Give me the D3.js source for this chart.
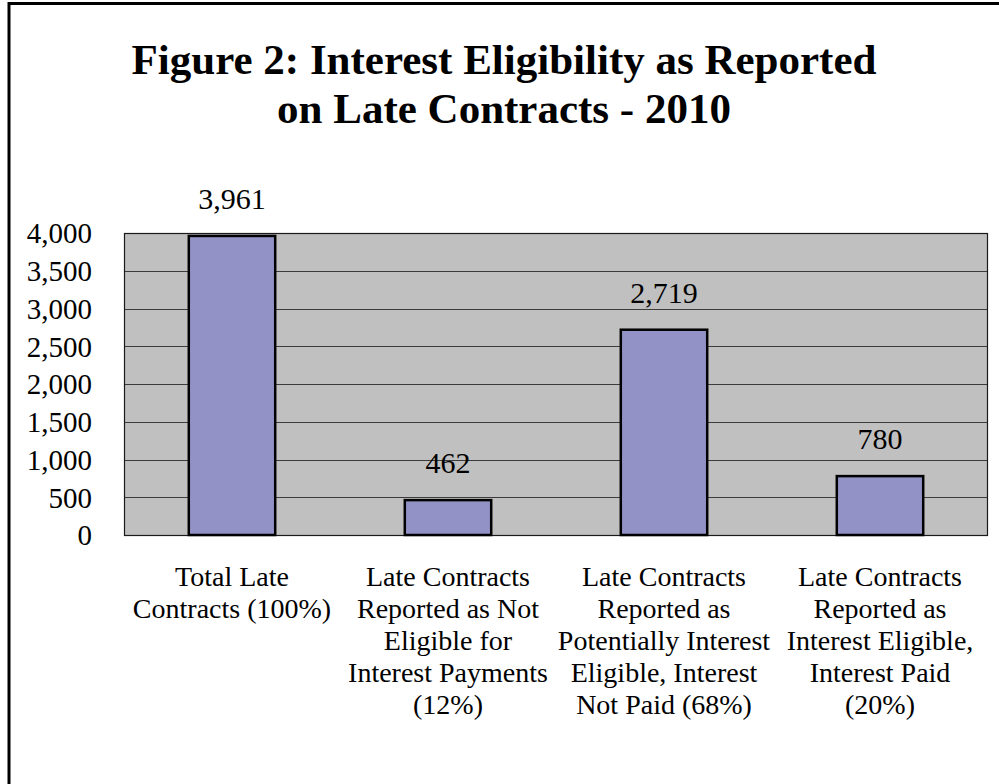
<!DOCTYPE html>
<html lang="en">
<head>
<meta charset="utf-8">
<title>Figure 2: Interest Eligibility as Reported on Late Contracts - 2010</title>
<script src="https://cdn.jsdelivr.net/npm/d3@7"></script>
<style>
  html, body { margin: 0; padding: 0; background: #fff; }
  svg { display: block; font-family: "Liberation Serif", "Times New Roman", serif; }
  .title { font-weight: bold; font-size: 43px; }
  .tick text { font-size: 29px; fill: #000; }
  .label { font-size: 30px; }
  .cat { font-size: 28px; }
  .grid line { stroke: #3c3c3c; stroke-width: 1.2; }
  .bar { fill: #9292c7; stroke: #000; stroke-width: 2.5; }
</style>
</head>
<body>
<svg id="chart"></svg>
<script>
// chart values
var categories = ["total", "notEligible", "notPaid", "paid"];
var counts = [3961, 462, 2719, 780];
var countLabels = ["3,961", "462", "2,719", "780"];
var catLines = [
  ["Total Late", "Contracts (100%)"],
  ["Late Contracts", "Reported as Not", "Eligible for", "Interest Payments", "(12%)"],
  ["Late Contracts", "Reported as", "Potentially Interest", "Eligible, Interest", "Not Paid (68%)"],
  ["Late Contracts", "Reported as", "Interest Eligible,", "Interest Paid", "(20%)"]
];
var yTicks = [0, 500, 1000, 1500, 2000, 2500, 3000, 3500, 4000];
var titleLines = ["Figure 2: Interest Eligibility as Reported", "on Late Contracts - 2010"];

var W = 999, H = 784;
var margin = {top: 233, right: 11, bottom: 249, left: 124},
    width = W - margin.left - margin.right,
    height = H - margin.top - margin.bottom;

var svg = d3.select("#chart").attr("width", W).attr("height", H);

// outer frame (only left and top edges show)
svg.append("path")
    .attr("d", "M9," + H + "V3.5H" + W)
    .attr("fill", "none")
    .attr("stroke", "#000")
    .attr("stroke-width", 3);

// title
svg.selectAll(".title")
    .data(titleLines)
  .enter().append("text")
    .attr("class", "title")
    .attr("x", 504)
    .attr("y", function(d, i) { return 74 + i * 49; })
    .attr("text-anchor", "middle")
    .text(function(d) { return d; });

var x = d3.scaleBand().domain(categories).range([0, width]).paddingInner(0.6).paddingOuter(0.3);
var y = d3.scaleLinear().domain([0, 4000]).range([height, 0]);

var g = svg.append("g")
    .attr("transform", "translate(" + margin.left + "," + margin.top + ")");

// plot background
g.append("rect")
    .attr("width", width)
    .attr("height", height)
    .attr("fill", "#c0c0c0");

// gridlines
g.append("g")
    .attr("class", "grid")
    .selectAll("line")
    .data(yTicks.slice(1))
  .enter().append("line")
    .attr("x1", 0).attr("x2", width)
    .attr("y1", function(d) { return Math.round(y(d)) + 0.5; })
    .attr("y2", function(d) { return Math.round(y(d)) + 0.5; });

// plot border
g.append("rect")
    .attr("x", 0.5).attr("y", 0.5)
    .attr("width", width - 1)
    .attr("height", height)
    .attr("fill", "none")
    .attr("stroke", "#1a1a1a")
    .attr("stroke-width", 1.2);

// y axis
var yAxis = g.append("g")
    .call(d3.axisLeft(y).tickValues(yTicks).tickSize(0).tickPadding(32).tickFormat(d3.format(",")))
    .attr("font-family", null)
    .attr("font-size", null);
yAxis.select(".domain").remove();
yAxis.selectAll(".tick text").attr("dy", "0.34em");

// bars
g.selectAll(".bar")
    .data(counts)
  .enter().append("rect")
    .attr("class", "bar")
    .attr("x", function(d, i) { return x(categories[i]); })
    .attr("y", function(d) { return y(d); })
    .attr("width", x.bandwidth())
    .attr("height", function(d) { return height - y(d); });

// value labels
g.selectAll(".label")
    .data(counts)
  .enter().append("text")
    .attr("class", "label")
    .attr("x", function(d, i) { return x(categories[i]) + x.bandwidth() / 2; })
    .attr("y", function(d) { return y(d) - 27; })
    .attr("text-anchor", "middle")
    .text(function(d, i) { return countLabels[i]; });

// category labels
var cats = g.selectAll(".cat")
    .data(catLines)
  .enter().append("text")
    .attr("class", "cat")
    .attr("text-anchor", "middle")
    .attr("transform", function(d, i) {
      return "translate(" + (x(categories[i]) + x.bandwidth() / 2) + "," + (height + 51) + ")";
    });
cats.selectAll("tspan")
    .data(function(d) { return d; })
  .enter().append("tspan")
    .attr("x", 0)
    .attr("y", function(d, i) { return i * 32; })
    .text(function(d) { return d; });
</script>
</body>
</html>
